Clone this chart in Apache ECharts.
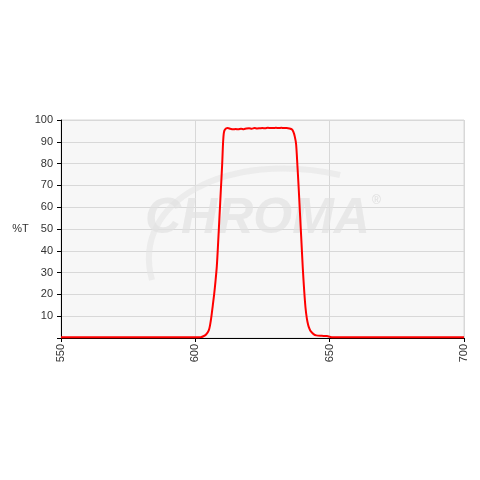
<!DOCTYPE html>
<html><head><meta charset="utf-8">
<script src="https://cdn.jsdelivr.net/npm/echarts@6/dist/echarts.min.js"></script>
<style>html,body{margin:0;padding:0;background:#fff}#c{width:480px;height:480px}</style>
</head><body><div id="c"></div>
<script>
const wavelength = [550,600,602,603,604,605,605.5,606,606.5,607,607.5,608,608.5,609,609.5,610,610.3,610.6,611,612,613,614,615,616,617,618,619,620,621,622,623,624,625,626,627,628,629,630,631,632,633,634,635,636,636.5,637,637.5,638,638.5,639,639.5,640,640.5,641,641.5,642,642.5,643,644,645,647,649,650,651,700];
const transmission = [0.3,0.3,0.4,0.8,1.6,3.5,6,10,15,20,26,33,44,56,68,80,89,94,95.6,96.3,96.0,95.7,95.9,95.7,96.0,95.8,96.1,96.2,96.0,96.3,96.1,96.2,96.3,96.2,96.4,96.3,96.3,96.4,96.3,96.4,96.3,96.3,96.1,95.6,94.5,92.5,89,79,68,56,44,32,22,14,9,6,4.2,3,1.8,1.2,1.0,0.9,0.6,0.3,0.3];
const xTicks = [550,600,650,700];
const yTicks = [10,20,30,40,50,60,70,80,90,100];

const chart = echarts.init(document.getElementById('c'));
const font = 'Liberation Sans, Arial, sans-serif';
chart.setOption({
  animation:false,
  backgroundColor:'#fff',
  grid:{left:61,right:16,top:120,bottom:142,show:true,backgroundColor:'#f7f7f7',borderColor:'#d8d8d8',borderWidth:1},
  graphic:[
    {type:'bezierCurve',z:1,silent:true,shape:{x1:152,y1:280,x2:340,y2:175,cpx1:130,cpy1:200,cpx2:230,cpy2:150},style:{stroke:'rgba(228,228,228,0.6)',lineWidth:6,fill:null}},
    {type:'text',z:1,silent:true,left:145,top:194,style:{text:'CHROMA',font:'italic bold 50px Liberation Sans, Arial, sans-serif',fill:'rgba(225,225,225,0.7)'}},
    {type:'text',z:1,silent:true,left:372,top:195,style:{text:'®',font:'12px Liberation Sans, Arial',fill:'rgba(215,215,215,0.8)'}}
  ],
  xAxis:{type:'value',min:550,max:700,interval:50,
    axisLine:{show:true,lineStyle:{color:'#000',width:1}},
    axisTick:{show:true,length:4,lineStyle:{color:'#000'}},
    axisLabel:{rotate:90,color:'#333',fontSize:11,fontFamily:font,margin:6,
      formatter:v=>xTicks.includes(v)?String(v):''},
    splitLine:{show:true,lineStyle:{color:'#d8d8d8',width:1}}},
  yAxis:{type:'value',min:0,max:100,interval:10,name:'%T',nameLocation:'middle',nameRotate:0,nameGap:30,
    nameTextStyle:{color:'#333',fontSize:11,fontFamily:font},
    axisLine:{show:true,lineStyle:{color:'#000',width:1}},
    axisTick:{show:true,length:4,lineStyle:{color:'#000'}},
    axisLabel:{color:'#333',fontSize:11,fontFamily:font,margin:8,
      formatter:v=>yTicks.includes(v)?String(v):''},
    splitLine:{show:true,lineStyle:{color:'#d8d8d8',width:1}}},
  series:[{type:'line',z:5,data:wavelength.map((w,i)=>[w,transmission[i]]),showSymbol:false,smooth:0.3,
    lineStyle:{color:'#ff0000',width:2},itemStyle:{color:'#ff0000'}}]
});
</script></body></html>
